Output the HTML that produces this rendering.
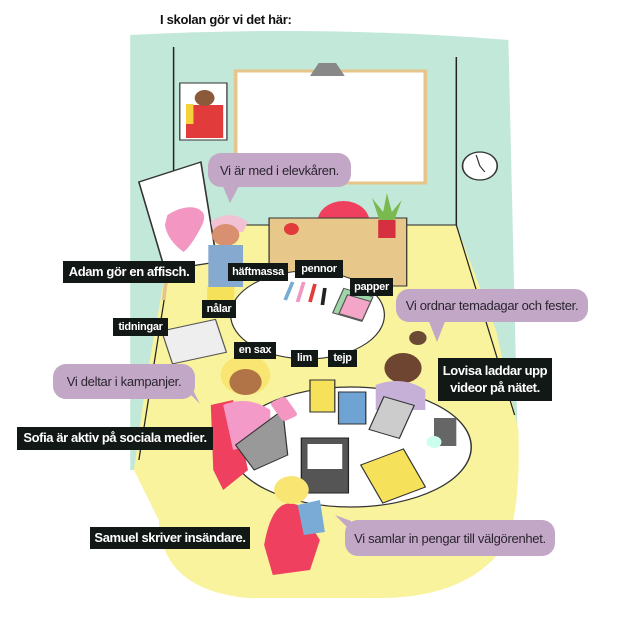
<!DOCTYPE html>
<html><head><meta charset="utf-8"><style>
body{margin:0;width:640px;height:622px;background:#fff;position:relative;overflow:hidden;font-family:"Liberation Sans",sans-serif}
.l{position:absolute;background:#121816;color:#fff;font-weight:bold;font-size:11px;letter-spacing:-0.3px;display:flex;align-items:center;justify-content:center;text-align:center;line-height:1.3;white-space:nowrap}
.L{font-size:13px;letter-spacing:-0.4px}
.b{position:absolute;background:#c3a7c6;color:#2a2430;font-size:13px;letter-spacing:-0.3px;border-radius:13px;display:flex;align-items:center;justify-content:center;white-space:nowrap}
</style></head><body>
<svg width="640" height="622" style="position:absolute;left:0;top:0">
<g transform="scale(1.24,1)">
<path d="M105 35 Q260 25 410 40 L418 470 L380 470 L105 470 Z" fill="#c2e8d9"/>
<path d="M140 225 L368 225 L400 330 L418 430 Q420 500 410 540 Q380 600 300 598 L200 598 Q130 590 128 520 L108 470 L118 380 Z" fill="#f8f39c"/>
<line x1="140" y1="47" x2="140" y2="240" stroke="#222" stroke-width="1.2"/>
<line x1="368" y1="57" x2="368" y2="225" stroke="#222" stroke-width="1.2"/>
<line x1="140" y1="225" x2="368" y2="225" stroke="#222" stroke-width="1"/>
<line x1="368" y1="225" x2="415" y2="415" stroke="#222" stroke-width="1"/>
<line x1="140" y1="240" x2="112" y2="460" stroke="#222" stroke-width="1"/>
<rect x="190" y="71" width="153" height="112" fill="#fff" stroke="#e6c58a" stroke-width="3"/>
<path d="M250 76 L257 63 L271 63 L278 76 Z" fill="#888"/>
<rect x="145" y="83" width="38" height="57" fill="#fff" stroke="#333"/>
<rect x="150" y="105" width="30" height="33" fill="#e23b3b"/>
<circle cx="165" cy="98" r="8" fill="#8a5a3a"/>
<rect x="150" y="104" width="6" height="20" fill="#f6d23a"/>
<circle cx="387" cy="166" r="14" fill="#fff" stroke="#333" stroke-width="1.3"/>
<line x1="387" y1="166" x2="384" y2="155" stroke="#333"/><line x1="387" y1="166" x2="391" y2="172" stroke="#333"/>
<path d="M112 182 L162 162 L175 262 L133 270 Z" fill="#fff" stroke="#333" stroke-width="1.3"/>
<path d="M135 215 Q148 205 158 208 Q168 212 163 225 Q155 245 148 252 Q135 240 133 225 Z" fill="#f397c2"/>
<line x1="135" y1="268" x2="132" y2="300" stroke="#e6c58a" stroke-width="3"/>
<circle cx="277" cy="222" r="21" fill="#ef4060"/>
<rect x="217" y="218" width="111" height="68" fill="#e8c88a" stroke="#333"/>
<circle cx="235" cy="229" r="6" fill="#e23b3b"/>
<rect x="305" y="220" width="14" height="18" fill="#d63040"/>
<path d="M306 220 L300 198 L309 212 L312 193 L316 212 L324 200 L318 220Z" fill="#7ab850"/>
<path d="M170 222 Q185 208 200 222 L196 232 L172 232Z" fill="#f2c1d4"/>
<circle cx="182" cy="235" r="11" fill="#d99070"/>
<rect x="168" y="245" width="28" height="42" fill="#86a9d0"/>
<rect x="167" y="287" width="22" height="13" fill="#f6e25a"/>
<ellipse cx="248" cy="315" rx="62" ry="44" fill="#fff" stroke="#333"/>
<rect x="134" y="325" width="45" height="34" fill="#eee" stroke="#555" transform="rotate(-15 155 342)"/>
<rect x="272" y="292" width="25" height="26" fill="#9ed6a8" stroke="#555" transform="rotate(20 285 305)"/>
<rect x="277" y="297" width="20" height="20" fill="#f4a6c8" stroke="#555" transform="rotate(20 285 305)"/>
<g stroke-width="3"><line x1="230" y1="300" x2="236" y2="282" stroke="#7aaad6"/><line x1="240" y1="302" x2="245" y2="282" stroke="#f397c2"/><line x1="250" y1="302" x2="254" y2="284" stroke="#e23b3b"/><line x1="260" y1="305" x2="262" y2="288" stroke="#222"/></g>
<ellipse cx="283" cy="447" rx="97" ry="60" fill="#fff" stroke="#333" stroke-width="1.2"/>
<path d="M170 405 L188 400 L200 470 L180 490 L172 470 Z" fill="#ef4060"/>
<circle cx="198" cy="375" r="20" fill="#f9e672"/>
<circle cx="198" cy="382" r="13" fill="#b07446"/>
<path d="M180 405 Q200 395 218 410 L218 440 L188 450 Z" fill="#f39ac8"/>
<path d="M190 445 L228 410 L232 455 L205 470 Z" fill="#999" stroke="#333"/>
<rect x="222" y="398" width="14" height="22" rx="3" fill="#f397c2" transform="rotate(-30 229 409)"/>
<circle cx="337" cy="338" r="7" fill="#6b4a35"/>
<circle cx="325" cy="368" r="15" fill="#6e4530"/>
<path d="M303 385 Q325 375 343 390 L343 410 L303 410 Z" fill="#c7b0d8"/>
<rect x="303" y="400" width="26" height="35" fill="#ccc" stroke="#333" transform="rotate(20 316 417)"/>
<rect x="250" y="380" width="20" height="32" fill="#f6e25a" stroke="#333"/>
<rect x="273" y="392" width="22" height="32" fill="#6fa3d3" stroke="#333"/>
<rect x="243" y="438" width="38" height="55" fill="#555" stroke="#222"/>
<rect x="248" y="444" width="28" height="25" fill="#fff"/>
<rect x="298" y="455" width="38" height="42" fill="#f6e25a" stroke="#333" transform="rotate(-25 317 476)"/>
<rect x="350" y="418" width="18" height="28" fill="#666"/>
<circle cx="350" cy="442" r="6" fill="#cfe"/>
<path d="M213 545 Q220 495 240 505 L258 540 L250 570 L220 575Z" fill="#ef4060"/>
<circle cx="235" cy="490" r="14" fill="#f9e672"/>
<path d="M240 505 L258 500 L262 532 L245 535Z" fill="#7aaad6"/>
</g>
</svg>
<div style="position:absolute;left:160px;top:12px;font-size:13px;font-weight:bold;color:#111;letter-spacing:-0.3px">I skolan gör vi det här:</div>
<div class="b" style="left:208px;top:153px;width:143px;height:34px">Vi är med i elevkåren.</div>
<svg style="position:absolute;left:222px;top:184px" width="20" height="20"><path d="M0 0 L18 0 L8 19Z" fill="#c3a7c6"/></svg>
<div class="b" style="left:396px;top:289px;width:192px;height:33px">Vi ordnar temadagar och fester.</div>
<svg style="position:absolute;left:428px;top:319px" width="20" height="24"><path d="M0 0 L18 0 L9 23Z" fill="#c3a7c6"/></svg>
<div class="b" style="left:53px;top:364px;width:142px;height:35px">Vi deltar i kampanjer.</div>
<svg style="position:absolute;left:184px;top:388px" width="20" height="18"><path d="M0 0 L8 0 L16 16Z" fill="#c3a7c6"/></svg>
<div class="b" style="left:345px;top:520px;width:210px;height:36px">Vi samlar in pengar till välgörenhet.</div>
<svg style="position:absolute;left:335px;top:515px" width="24" height="18"><path d="M0 0 L16 6 L16 16Z" fill="#c3a7c6"/></svg>
<div class="l L" style="left:63px;top:261px;width:132px;height:22px">Adam gör en affisch.</div>
<div class="l" style="left:228px;top:263px;width:60px;height:18px">häftmassa</div>
<div class="l" style="left:295px;top:260px;width:48px;height:18px">pennor</div>
<div class="l" style="left:350px;top:278px;width:43px;height:18px">papper</div>
<div class="l" style="left:202px;top:300px;width:34px;height:18px">nålar</div>
<div class="l" style="left:113px;top:318px;width:55px;height:18px">tidningar</div>
<div class="l" style="left:234px;top:342px;width:42px;height:17px">en sax</div>
<div class="l" style="left:291px;top:350px;width:27px;height:17px">lim</div>
<div class="l" style="left:328px;top:350px;width:29px;height:17px">tejp</div>
<div class="l L" style="left:438px;top:358px;width:114px;height:43px">Lovisa laddar upp<br>videor på nätet.</div>
<div class="l L" style="left:17px;top:427px;width:196px;height:23px">Sofia är aktiv på sociala medier.</div>
<div class="l L" style="left:90px;top:527px;width:160px;height:22px">Samuel skriver insändare.</div>
</body></html>
